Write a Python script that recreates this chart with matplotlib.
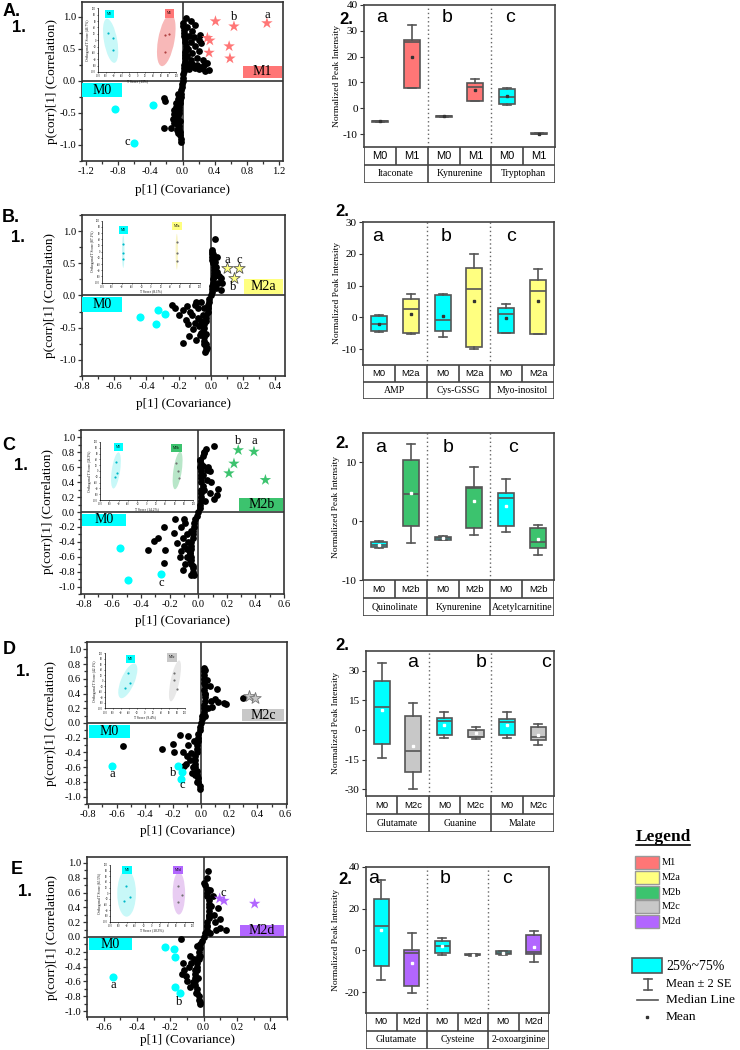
import matplotlib
matplotlib.use("Agg")
import matplotlib.pyplot as plt
from matplotlib.patches import Rectangle, Ellipse
from matplotlib.ticker import MultipleLocator, FormatStrFormatter

plt.rcParams["font.family"] = ["Liberation Serif", "DejaVu Serif"]
plt.rcParams["axes.unicode_minus"] = False

SANS = ["Liberation Sans", "DejaVu Sans"]
CYAN = "#00FFFF"
COLORS = {"M1": "#FF7676", "M2a": "#FFFF80", "M2b": "#3CC36E", "M2c": "#C8C8C8", "M2d": "#B266FF"}
LIGHT = {"M0": "#C8F8F8", "M1": "#F8B8B8", "M2a": "#F8F4C4", "M2b": "#B8E6C8", "M2c": "#E8E8E8", "M2d": "#E8CCF2"}
GRAY = "#555555"

# ---------------- S-plot data (p[1], p(corr)[1]) ----------------
A_black_x = [-0.02, -0.02, -0.03, -0.03, -0.04, -0.04, -0.05, -0.05, -0.05, -0.04, -0.04, -0.04, -0.03, -0.03,
             -0.02, -0.02, -0.02, -0.01, -0.01, 0.0, 0.01, 0.01, 0.02, 0.02, 0.02, 0.03, 0.03, 0.03, 0.03, 0.04,
             0.04, 0.03, 0.03, 0.02, 0.02, 0.02, 0.01, 0.01,
             0.04, 0.1, 0.16, 0.12, 0.06, 0.08, 0.14, 0.22, 0.2, 0.1, 0.23, 0.16, 0.07, 0.21, 0.12, 0.05, 0.25,
             0.18, 0.1, 0.31, 0.27, 0.22, 0.16, 0.33, 0.28, 0.2, 0.12, 0.08, 0.14, 0.05, 0.18, 0.24,
             -0.06, -0.08, -0.1, -0.07, -0.09, -0.12, -0.08, -0.06, -0.23, -0.22, -0.23, -0.14, -0.11, -0.07,
             -0.1, -0.05, -0.08, -0.03, -0.06]
A_black_y = [-0.95, -0.9, -0.85, -0.8, -0.75, -0.7, -0.65, -0.6, -0.55, -0.5, -0.45, -0.4, -0.35, -0.3, -0.25,
             -0.2, -0.15, -0.1, -0.05, 0.0, 0.05, 0.1, 0.15, 0.2, 0.25, 0.3, 0.35, 0.4, 0.45, 0.5, 0.55, 0.6,
             0.65, 0.7, 0.75, 0.8, 0.85, 0.9,
             0.98, 0.93, 0.875, 0.77, 0.84, 0.7, 0.68, 0.72, 0.64, 0.6, 0.59, 0.55, 0.5, 0.46, 0.44, 0.38, 0.33,
             0.36, 0.32, 0.28, 0.24, 0.22, 0.2, 0.17, 0.16, 0.18, 0.26, 0.18, 0.22, 0.26, 0.25, 0.2,
             -0.2, -0.35, -0.45, -0.5, -0.55, -0.6, -0.65, -0.7, -0.27, -0.32, -0.74, -0.74, -0.66, -0.76,
             -0.52, -0.82, -0.4, -0.62, -0.28]
A_m0_x = [-0.84, -0.37, -0.60]
A_m0_y = [-0.44, -0.38, -0.97]
A_star_x = [1.05, 0.64, 0.41, 0.31, 0.34, 0.58, 0.33, 0.59]
A_star_y = [0.90, 0.85, 0.93, 0.67, 0.63, 0.54, 0.44, 0.35]
A_tags = [("a", 1.05, 1.03), ("b", 0.64, 1.0), ("c", -0.69, -0.95)]

B_black_x = [-0.03, -0.03, -0.03, -0.04, -0.04, -0.04, -0.05, -0.04, -0.04, -0.03, -0.03, -0.03, -0.02, -0.02,
             -0.02, -0.01, -0.01, 0.0, 0.005, 0.01, 0.01, 0.015, 0.015, 0.02, 0.02, 0.02, 0.02, 0.015, 0.015,
             0.01, 0.01, 0.005,
             -0.24, -0.22, -0.175, -0.15, -0.12, -0.155, -0.2, -0.076, -0.134, -0.17, -0.09, -0.045, -0.035,
             -0.025, -0.06, -0.1, -0.13, -0.1, -0.08, -0.06, -0.05, -0.08, -0.11, -0.07, -0.05, -0.04, -0.14,
             -0.03, -0.06, -0.09,
             0.025, 0.005, 0.015, 0.025, 0.04, 0.06, 0.07, 0.06, 0.03, 0.02, 0.045, 0.03, 0.01, 0.05, 0.035]
B_black_y = [-0.85, -0.8, -0.75, -0.7, -0.65, -0.6, -0.55, -0.5, -0.45, -0.4, -0.35, -0.3, -0.25, -0.2, -0.15,
             -0.1, -0.05, 0.0, 0.05, 0.1, 0.15, 0.2, 0.25, 0.3, 0.35, 0.4, 0.45, 0.5, 0.55, 0.6, 0.65, 0.7,
             -0.14, -0.2, -0.22, -0.17, -0.3, -0.38, -0.3, -0.48, -0.63, -0.74, -0.69, -0.76, -0.87, -0.81,
             -0.58, -0.43, -0.25, -0.15, -0.2, -0.1, -0.3, -0.35, -0.52, -0.62, -0.45, -0.2, -0.45, -0.6,
             -0.4, -0.1,
             0.87, 0.68, 0.65, 0.52, 0.37, 0.27, 0.19, 0.09, 0.45, 0.3, 0.2, 0.12, 0.55, 0.3, 0.6]
B_m0_x = [-0.44, -0.33, -0.285, -0.34]
B_m0_y = [-0.34, -0.22, -0.29, -0.45]
B_star_x = [0.10, 0.145, 0.175]
B_star_y = [0.42, 0.27, 0.42]
B_tags = [("a", 0.10, 0.55), ("c", 0.175, 0.55), ("b", 0.14, 0.13)]

C_black_x = [-0.03, -0.04, -0.04, -0.05, -0.05, -0.05, -0.06, -0.05, -0.05, -0.05, -0.04, -0.04, -0.04, -0.03,
             -0.03, -0.02, -0.01, 0.0, 0.01, 0.01, 0.02, 0.02, 0.02, 0.02, 0.03, 0.02, 0.02, 0.02, 0.02, 0.01,
             0.02, 0.01, 0.03, 0.04,
             0.11, 0.04, 0.055, 0.015, 0.07, 0.06, 0.06, 0.03, 0.14, 0.085, 0.13, 0.11, 0.04, 0.09, 0.05, 0.08,
             0.03,
             -0.1, -0.16, -0.24, -0.17, -0.31, -0.28, -0.35, -0.23, -0.24, -0.11, -0.05, -0.08, -0.12, -0.08,
             -0.1, -0.06, -0.13, -0.09, -0.04, -0.07, -0.15, -0.05, -0.11, -0.09, -0.12, -0.06, -0.08]
C_black_y = [-0.85, -0.8, -0.75, -0.7, -0.65, -0.6, -0.55, -0.5, -0.45, -0.4, -0.35, -0.3, -0.25, -0.2, -0.15,
             -0.1, -0.05, 0.0, 0.05, 0.1, 0.15, 0.2, 0.25, 0.3, 0.35, 0.4, 0.45, 0.5, 0.55, 0.6, 0.65, 0.7,
             0.75, 0.8,
             0.89, 0.79, 0.84, 0.7, 0.61, 0.57, 0.43, 0.5, 0.31, 0.25, 0.23, 0.17, 0.3, 0.4, 0.15, 0.55, 0.62,
             -0.09, -0.1, -0.2, -0.28, -0.39, -0.35, -0.51, -0.51, -0.68, -0.78, -0.85, -0.6, -0.2, -0.3,
             -0.45, -0.55, -0.6, -0.7, -0.72, -0.4, -0.42, -0.25, -0.35, -0.15, -0.52, -0.65, -0.5]
C_m0_x = [-0.55, -0.49, -0.26]
C_m0_y = [-0.48, -0.91, -0.83]
C_star_x = [0.28, 0.39, 0.25, 0.215, 0.47]
C_star_y = [0.83, 0.81, 0.65, 0.52, 0.43]
C_tags = [("b", 0.28, 0.95), ("a", 0.39, 0.95), ("c", -0.26, -0.95)]

D_black_x = [-0.01, -0.02, -0.02, -0.03, -0.03, -0.04, -0.04, -0.04, -0.04, -0.03, -0.03, -0.03, -0.02, -0.02,
             -0.02, -0.01, -0.01, 0.0, 0.01, 0.01, 0.02, 0.02, 0.02, 0.03, 0.03, 0.03, 0.02, 0.03, 0.02, 0.02,
             0.02, 0.02,
             0.02, 0.03, 0.04, 0.11, 0.06, 0.03, 0.18, 0.16, 0.07, 0.1, 0.05, 0.03, 0.3, 0.08, 0.12,
             -0.15, -0.09, -0.2, -0.28, -0.555, -0.195, -0.13, -0.07, -0.12, -0.065, -0.03, -0.01, -0.08,
             -0.1, -0.05, -0.06, -0.11, -0.04, -0.09]
D_black_y = [-0.85, -0.8, -0.75, -0.7, -0.65, -0.6, -0.55, -0.5, -0.45, -0.4, -0.35, -0.3, -0.25, -0.2, -0.15,
             -0.1, -0.05, 0.0, 0.05, 0.1, 0.15, 0.2, 0.25, 0.3, 0.35, 0.4, 0.45, 0.5, 0.55, 0.6, 0.65, 0.7,
             0.75, 0.72, 0.59, 0.46, 0.5, 0.4, 0.26, 0.27, 0.3, 0.33, 0.2, 0.1, 0.34, 0.22, 0.28,
             -0.16, -0.18, -0.29, -0.35, -0.31, -0.39, -0.39, -0.41, -0.59, -0.68, -0.8, -0.89, -0.5, -0.45,
             -0.25, -0.6, -0.55, -0.7, -0.3]
D_m0_x = [-0.63, -0.165, -0.135, -0.145]
D_m0_y = [-0.58, -0.58, -0.67, -0.76]
D_star_x = [0.34, 0.38]
D_star_y = [0.37, 0.34]
D_tags = [("a", -0.63, -0.69), ("b", -0.195, -0.68), ("c", -0.13, -0.84)]

E_black_x = [-0.02, -0.03, -0.03, -0.04, -0.04, -0.05, -0.05, -0.05, -0.05, -0.04, -0.04, -0.04, -0.03, -0.03,
             -0.03, -0.02, -0.02, -0.01, 0.0, 0.01, 0.02, 0.02, 0.02, 0.03, 0.03, 0.03, 0.03, 0.03, 0.03, 0.02,
             0.02, 0.02, 0.01,
             0.026, 0.02, 0.0, 0.036, 0.056, 0.086, 0.096, 0.136, 0.1, 0.07, 0.045, 0.03, 0.02, 0.076, 0.04,
             0.06,
             -0.134, -0.084, -0.124, -0.12, -0.104, -0.064, -0.044, -0.024, -0.034, -0.054, -0.074, -0.02,
             -0.04, -0.1, -0.08, -0.13, -0.09, -0.06]
E_black_y = [-0.9, -0.85, -0.8, -0.75, -0.7, -0.65, -0.6, -0.55, -0.5, -0.45, -0.4, -0.35, -0.3, -0.25, -0.2,
             -0.15, -0.1, -0.05, 0.0, 0.05, 0.1, 0.15, 0.2, 0.25, 0.3, 0.35, 0.4, 0.45, 0.5, 0.55, 0.6, 0.65,
             0.7,
             0.89, 0.8, 0.73, 0.64, 0.55, 0.39, 0.24, 0.1, 0.12, 0.2, 0.42, 0.28, 0.15, 0.1, 0.05, 0.3,
             -0.03, -0.26, -0.35, -0.44, -0.53, -0.61, -0.75, -0.88, -0.55, -0.44, -0.35, -0.25, -0.12, -0.6,
             -0.68, -0.5, -0.4, -0.3]
E_m0_x = [-0.23, -0.18, -0.175, -0.545, -0.17, -0.145]
E_m0_y = [-0.135, -0.157, -0.265, -0.54, -0.68, -0.76]
E_star_x = [0.096, 0.122, 0.306]
E_star_y = [0.52, 0.49, 0.45]
E_tags = [("c", 0.12, 0.60), ("a", -0.545, -0.65), ("b", -0.145, -0.88)]

# ---------------- OPLS-DA score insets ----------------
A_in_m0_x, A_in_m0_y = [-75, -62, -62], [22, 6, -31]
A_in_g_x, A_in_g_y = [70, 82, 72], [16, 19, -37]
A_in_ell = [(-68, -2, 34, 140, 8), (74, 0, 42, 165, -8)]
A_in_lab = ("T Score (13%)", "Orthogonal T Score (46.7%)")

B_in_m0_x, B_in_m0_y = [-57, -57, -57], [26, -6, -23]
B_in_g_x, B_in_g_y = [53, 53, 53], [32, -6, -29]
B_in_ell = [(-57, 0, 5, 105, 0), (53, 0, 5, 115, 0)]
B_in_lab = ("T Score (8.1%)", "Orthogonal T Score (87.1%)")

C_in_m0_x, C_in_m0_y = [-66, -63, -69], [31, -7, -21]
C_in_g_x, C_in_g_y = [63, 66, 70], [28, 0, -24]
C_in_ell = [(-66, 2, 18, 125, -5), (66, 2, 18, 130, -5)]
C_in_lab = ("T Score (14.2%)", "Orthogonal T Score (38.3%)")

D_in_m0_x, D_in_m0_y = [-42, -37, -50], [27, -9, -27]
D_in_g_x, D_in_g_y = [73, 73, 80], [27, 2, -31]
D_in_ell = [(-43, 0, 35, 130, -15), (75, 0, 22, 150, -8)]
D_in_lab = ("T Score (9.4%)", "Orthogonal T Score (42.1%)")

E_in_m0_x, E_in_m0_y = [-61, -52, -66], [26, -12, -26]
E_in_g_x, E_in_g_y = [64, 73, 64], [26, -5, -30]
E_in_ell = [(-60, 0, 45, 165, 0), (66, 0, 30, 150, 0)]
E_in_lab = ("T Score (10.3%)", "Orthogonal T Score (65.5%)")

# ---------------- box plot data (order: M0, Mx for each metabolite) ----------------
A_names = ["Itaconate", "Kynurenine", "Tryptophan"]
A_q1 = [-5.2, 7.8, -3.2, 2.9, 1.5, -9.9]
A_med = [-5.1, 25.8, -3.0, 8.3, 4.5, -9.8]
A_q3 = [-5.0, 26.5, -2.8, 9.9, 7.5, -9.7]
A_lo = [-5.2, 7.8, -3.2, 2.8, 1.3, -9.9]
A_hi = [-5.0, 32.3, -2.8, 11.2, 7.9, -9.7]
A_mean = [-5.1, 20.0, -3.0, 7.0, 4.8, -9.8]

B_names = ["AMP", "Cys-GSSG", "Myo-inositol"]
B_q1 = [-4.2, -5.0, -4.3, -9.3, -4.8, -5.1]
B_med = [-2.1, 2.5, -0.8, 8.8, 1.0, 8.4]
B_q3 = [0.4, 5.8, 7.0, 15.6, 2.9, 11.8]
B_lo = [-4.7, -5.1, -6.2, -9.9, -4.9, -5.2]
B_hi = [0.7, 7.4, 7.3, 19.9, 4.3, 15.3]
B_mean = [-2.0, 1.1, 0.5, 5.0, -0.3, 5.0]

C_names = ["Quinolinate", "Kynurenine", "Acetylcarnitine"]
C_q1 = [-4.4, -0.9, -3.2, -1.1, -0.9, -4.6]
C_med = [-4.0, 4.7, -2.9, 5.7, 3.9, -3.6]
C_q3 = [-3.6, 10.4, -2.7, 5.8, 4.8, -1.2]
C_lo = [-4.6, -3.7, -3.2, -2.4, -1.9, -5.7]
C_hi = [-3.4, 13.2, -2.5, 9.3, 7.1, -0.6]
C_mean = [-4.0, 4.8, -2.9, 3.4, 2.6, -3.1]

D_names = ["Glutamate", "Guanine", "Malate"]
D_q1 = [-7.3, -21.3, -2.4, -3.8, -2.5, -4.9]
D_med = [11.8, -10.6, 4.4, -3.6, 4.2, -3.7]
D_q3 = [24.8, 7.2, 5.8, -0.1, 5.4, 1.7]
D_lo = [-14.4, -29.8, -3.9, -4.4, -4.0, -7.4]
D_hi = [34.0, 13.4, 9.1, 1.5, 8.9, 3.0]
D_mean = [10.0, -8.3, 2.6, -1.5, 2.4, -2.5]

E_names = ["Glutamate", "Cysteine", "2-oxoarginine"]
E_q1 = [-7.3, -16.9, -1.3, -2.4, -1.9, -1.75]
E_med = [11.8, -1.0, 2.2, -2.0, -1.2, -0.8]
E_q3 = [24.7, 0.1, 4.3, -1.7, -0.5, 7.2]
E_lo = [-14.4, -20.3, -2.4, -2.6, -2.4, -5.75]
E_hi = [33.8, 8.3, 6.1, -1.5, -0.5, 9.1]
E_mean = [9.6, -5.9, 1.9, -2.0, -1.3, 1.6]

LEGEND_GROUPS = ["M1", "M2a", "M2b", "M2c", "M2d"]


def px(l, t, r, b):
    return [l / 740, 1 - b / 1050, (r - l) / 740, (b - t) / 1050]


def draw_inset(ax, rect, m0x, m0y, gx, gy, ells, grp, labels, tagpos):
    ins = ax.inset_axes(rect)
    ins.set_xlim(-100, 100)
    ins.set_ylim(-100, 100)
    for (cx, cy, w, h, ang), key in zip(ells, ["M0", grp]):
        ins.add_patch(Ellipse((cx, cy), w, h, angle=ang, facecolor=LIGHT[key], edgecolor="none"))
    ins.scatter(m0x, m0y, s=2.5, color="#00B8C8", lw=0, zorder=3)
    ins.scatter(gx, gy, s=2.5, color="#B04040" if grp == "M1" else "#707070", lw=0, zorder=3)
    for (tx, ty), key in zip(tagpos, ["M0", grp]):
        ins.text(tx, ty, key, fontsize=2.5, ha="center", va="center",
                 bbox=dict(boxstyle="square,pad=0.6", facecolor=CYAN if key == "M0" else COLORS[grp],
                           edgecolor="none"))
    for s in ["top", "right"]:
        ins.spines[s].set_visible(False)
    for s in ["left", "bottom"]:
        ins.spines[s].set_linewidth(0.5)
    ins.set_xticks(range(-100, 101, 20))
    ins.set_yticks(range(-100, 101, 20))
    ins.tick_params(labelsize=1.8, length=1, width=0.4, pad=0.5)
    ins.set_xlabel(labels[0], fontsize=2.6, labelpad=0.5)
    ins.set_ylabel(labels[1], fontsize=2.6, labelpad=0.5)


def scatter_panel(fig, lay, bx, by, mx, my, sx, sy, tags, grp, inset):
    l, t, r, b = lay["box"]
    ax = fig.add_axes(px(l, t, r, b))
    ax.set_xlim(lay["xlim"])
    ax.set_ylim(lay["ylim"])
    ax.xaxis.set_major_locator(MultipleLocator(lay["xstep"]))
    ax.xaxis.set_minor_locator(MultipleLocator(lay["xstep"] / 2))
    ax.yaxis.set_major_locator(MultipleLocator(lay["ystep"]))
    ax.yaxis.set_minor_locator(MultipleLocator(lay["ystep"] / 2))
    ax.xaxis.set_major_formatter(FormatStrFormatter("%.1f"))
    ax.yaxis.set_major_formatter(FormatStrFormatter("%.1f"))
    ax.tick_params(which="both", direction="out", labelsize=7.6, pad=1.2, width=0.9, color="#333333")
    ax.tick_params(which="major", length=3)
    ax.tick_params(which="minor", length=2)
    for s in ax.spines.values():
        s.set_linewidth(1.2)
        s.set_color("#333333")
    ax.axhline(0, color="#333333", lw=1.2, zorder=2)
    ax.axvline(0, color="#333333", lw=1.2, zorder=2)
    ax.scatter(bx, by, s=24, color="black", lw=0, zorder=3)
    ax.scatter(mx, my, s=34, color=CYAN, lw=0, zorder=3)
    ax.scatter(sx, sy, s=75, marker="*", color=COLORS[grp], edgecolors=lay["star_edge"],
               linewidths=0.6 if lay["star_edge"] != "none" else 0, zorder=4)
    for txt, tx, ty in tags:
        ax.text(tx, ty, txt, fontsize=9, ha="center", va="center", zorder=5)
    # group name boxes
    for (x0, y0, x1, y1), name, col in [(lay["m0_rect"], "M0", CYAN), (lay["g_rect"], grp, COLORS[grp])]:
        ax.add_patch(Rectangle((x0, y0), x1 - x0, y1 - y0, transform=ax.transAxes, facecolor=col,
                               edgecolor="none", zorder=4))
        ax.text((x0 + x1) / 2, (y0 + y1) / 2, name, transform=ax.transAxes, fontsize=10,
                ha="center", va="center", zorder=5)
    ax.set_xlabel("p[1] (Covariance)", fontsize=9.5, va="center")
    ax.xaxis.set_label_coords(0.5, -(lay["xlab_y"] - b) / (b - t))
    ax.set_ylabel("p(corr)[1] (Correlation)", fontsize=9.5, ha="center", va="center")
    ax.yaxis.set_label_coords(-(l - lay["ylab_x"]) / (r - l), 0.5)
    draw_inset(ax, *inset, grp, lay["in_labels"], lay["in_tags"])
    return ax


def box_panel(fig, lay, names, grp, q1, med, q3, lo, hi, mean):
    l, t, r, b = lay["box"]
    ax = fig.add_axes(px(l, t, r, b))
    stats = []
    for i in range(6):
        stats.append(dict(q1=q1[i], med=med[i], q3=q3[i], whislo=lo[i], whishi=hi[i],
                          mean=mean[i], fliers=[]))
    mc = lay["mean_color"]
    bp = ax.bxp(stats, positions=[1, 2, 3, 4, 5, 6], widths=0.5, patch_artist=True, showmeans=True,
                showfliers=False, capwidths=0.25,
                boxprops=dict(edgecolor=GRAY, linewidth=1.2),
                medianprops=dict(color=GRAY, linewidth=1.2),
                whiskerprops=dict(color=GRAY, linewidth=1.2),
                capprops=dict(color=GRAY, linewidth=1.2),
                meanprops=dict(marker="s", markersize=1.5, markerfacecolor=mc, markeredgecolor=mc))
    for i, patch in enumerate(bp["boxes"]):
        patch.set_facecolor(CYAN if i % 2 == 0 else COLORS[grp])
    ax.set_xlim(0.5, 6.5)
    ax.set_ylim(lay["ylim"])
    ax.set_yticks(lay["yticks"])
    ax.set_xticks([])
    ax.tick_params(axis="y", direction="out", length=3, labelsize=8, pad=1.5, color="#333333")
    for s in ax.spines.values():
        s.set_linewidth(1.2)
        s.set_color("#444444")
    for xv in [2.5, 4.5]:
        ax.axvline(xv, color="#666666", lw=1.0, ls=(0, (1, 2)))
    for (fx, fy), letter in zip(lay["letters"], ["a", "b", "c"]):
        ax.text(fx, fy, letter, transform=ax.transAxes, fontsize=14, family=SANS, ha="center", va="center")
    ax.set_ylabel("Normalized Peak Intensity", fontsize=6.8, ha="center", va="center")
    ax.yaxis.set_label_coords(-(l - lay["ylab_x"]) / (r - l), 0.5)

    # category table under the box plot
    tl, tt, tr, tb = lay["table"]
    tab = fig.add_axes(px(tl, tt, tr, tb))
    tab.set_xlim(0.5, 6.5)
    tab.set_ylim(0, 2)
    tab.axis("off")
    lc = dict(color="#444444", lw=1.2, solid_capstyle="butt")
    tab.plot([0.5, 6.5], [1, 1], **lc)
    tab.plot([0.5, 6.5], [0, 0], **lc)
    tab.plot([0.5, 0.5], [0, 2], **lc)
    tab.plot([6.5, 6.5], [0, 2], **lc)
    for xv in [1.5, 3.5, 5.5]:
        tab.plot([xv, xv], [1, 2], **lc)
    for xv in [2.5, 4.5]:
        tab.plot([xv, xv], [0, 2], **lc)
    for i in range(6):
        tab.text(i + 1, 1.5, "M0" if i % 2 == 0 else grp, fontsize=lay["gsize"], family=SANS,
                 ha="center", va="center")
    for j, name in enumerate(names):
        tab.text(2 * j + 1.5, 0.5, name, fontsize=7, ha="center", va="center")
    return ax


def main():
    fig = plt.figure(figsize=(7.4, 10.5), dpi=100)

    s_lays = [
        dict(box=(82, 2, 283, 161), xlim=(-1.25, 1.25), ylim=(-1.25, 1.23), xstep=0.4, ystep=0.5,
             m0_rect=(0.0, 0.40, 0.2, 0.49), g_rect=(0.80, 0.52, 0.995, 0.60), xlab_y=190, ylab_x=52,
             star_edge="none", in_tags=[(-70, 82), (82, 84)], in_labels=A_in_lab),
        dict(box=(82, 215, 285, 376), xlim=(-0.8, 0.46), ylim=(-1.25, 1.25), xstep=0.2, ystep=0.5,
             m0_rect=(0.0, 0.40, 0.197, 0.49), g_rect=(0.80, 0.51, 0.99, 0.60), xlab_y=404, ylab_x=50,
             star_edge="#555555", in_tags=[(-57, 71), (53, 82)], in_labels=B_in_lab),
        dict(box=(81, 430, 284, 594), xlim=(-0.82, 0.6), ylim=(-1.1, 1.1), xstep=0.2, ystep=0.2,
             m0_rect=(0.005, 0.415, 0.22, 0.49), g_rect=(0.78, 0.506, 0.995, 0.585), xlab_y=621, ylab_x=48,
             star_edge="none", in_tags=[(-61, 83), (63, 78)], in_labels=C_in_lab),
        dict(box=(87, 642, 287, 804), xlim=(-0.81, 0.61), ylim=(-1.1, 1.1), xstep=0.2, ystep=0.2,
             m0_rect=(0.01, 0.41, 0.215, 0.49), g_rect=(0.775, 0.51, 0.985, 0.586), xlab_y=831, ylab_x=51,
             star_edge="#777777", in_tags=[(-37, 80), (67, 85)], in_labels=D_in_lab),
        dict(box=(87, 857, 287, 1017), xlim=(-0.7, 0.5), ylim=(-1.08, 1.08), xstep=0.2, ystep=0.2,
             m0_rect=(0.01, 0.416, 0.225, 0.491), g_rect=(0.765, 0.509, 0.985, 0.578), xlab_y=1040,
             ylab_x=52, star_edge="none", in_tags=[(-59, 82), (64, 82)], in_labels=E_in_lab),
    ]
    inset_rects = [[0.08, 0.56, 0.39, 0.40], [0.10, 0.58, 0.48, 0.385], [0.094, 0.573, 0.46, 0.354],
                   [0.09, 0.59, 0.40, 0.34], [0.115, 0.596, 0.415, 0.354]]

    scatter_panel(fig, s_lays[0], A_black_x, A_black_y, A_m0_x, A_m0_y, A_star_x, A_star_y, A_tags, "M1",
                  (inset_rects[0], A_in_m0_x, A_in_m0_y, A_in_g_x, A_in_g_y, A_in_ell))
    scatter_panel(fig, s_lays[1], B_black_x, B_black_y, B_m0_x, B_m0_y, B_star_x, B_star_y, B_tags, "M2a",
                  (inset_rects[1], B_in_m0_x, B_in_m0_y, B_in_g_x, B_in_g_y, B_in_ell))
    scatter_panel(fig, s_lays[2], C_black_x, C_black_y, C_m0_x, C_m0_y, C_star_x, C_star_y, C_tags, "M2b",
                  (inset_rects[2], C_in_m0_x, C_in_m0_y, C_in_g_x, C_in_g_y, C_in_ell))
    scatter_panel(fig, s_lays[3], D_black_x, D_black_y, D_m0_x, D_m0_y, D_star_x, D_star_y, D_tags, "M2c",
                  (inset_rects[3], D_in_m0_x, D_in_m0_y, D_in_g_x, D_in_g_y, D_in_ell))
    scatter_panel(fig, s_lays[4], E_black_x, E_black_y, E_m0_x, E_m0_y, E_star_x, E_star_y, E_tags, "M2d",
                  (inset_rects[4], E_in_m0_x, E_in_m0_y, E_in_g_x, E_in_g_y, E_in_ell))

    b_lays = [
        dict(box=(364, 5, 555, 147), table=(364, 147, 555, 183), ylim=(-15, 40), yticks=range(-10, 41, 10),
             letters=[(0.094, 0.91), (0.435, 0.91), (0.765, 0.91)], ylab_x=337, mean_color="#333333", gsize=8),
        dict(box=(363, 222, 554, 365), table=(363, 365, 554, 399), ylim=(-15, 30), yticks=range(-10, 31, 10),
             letters=[(0.079, 0.90), (0.435, 0.90), (0.775, 0.90)], ylab_x=337, mean_color="#333333", gsize=6.8),
        dict(box=(363, 433, 554, 580), table=(363, 580, 554, 616), ylim=(-10, 15), yticks=[-10, 0, 10],
             letters=[(0.094, 0.90), (0.445, 0.90), (0.785, 0.90)], ylab_x=336, mean_color="white", gsize=6.8),
        dict(box=(366, 651, 554, 796), table=(366, 796, 554, 832), ylim=(-33.5, 40),
             yticks=[-30, -15, 0, 15, 30], letters=[(0.25, 0.92), (0.61, 0.92), (0.955, 0.92)], ylab_x=336,
             mean_color="white", gsize=6.8),
        dict(box=(366, 867, 549, 1013), table=(366, 1013, 549, 1049), ylim=(-30, 40),
             yticks=[-20, 0, 20, 40], letters=[(0.04, 0.92), (0.43, 0.92), (0.77, 0.92)], ylab_x=336,
             mean_color="white", gsize=6.8),
    ]
    box_panel(fig, b_lays[0], A_names, "M1", A_q1, A_med, A_q3, A_lo, A_hi, A_mean)
    box_panel(fig, b_lays[1], B_names, "M2a", B_q1, B_med, B_q3, B_lo, B_hi, B_mean)
    box_panel(fig, b_lays[2], C_names, "M2b", C_q1, C_med, C_q3, C_lo, C_hi, C_mean)
    box_panel(fig, b_lays[3], D_names, "M2c", D_q1, D_med, D_q3, D_lo, D_hi, D_mean)
    box_panel(fig, b_lays[4], E_names, "M2d", E_q1, E_med, E_q3, E_lo, E_hi, E_mean)

    # overlay in pixel coordinates: panel labels and legend
    ov = fig.add_axes([0, 0, 1, 1])
    ov.set_xlim(0, 740)
    ov.set_ylim(1050, 0)
    ov.axis("off")
    for txt, x, y, size in [("A.", 12, 12, 13), ("1.", 19, 28, 12), ("2.", 346, 19, 12),
                            ("B.", 11, 218, 13), ("1.", 18, 238, 12), ("2.", 342, 212, 12),
                            ("C", 9, 445, 13), ("1.", 21, 466, 12), ("2.", 342, 443, 12),
                            ("D", 9, 650, 13), ("1.", 23, 672, 12), ("2.", 342, 646, 12),
                            ("E", 17, 869, 13), ("1.", 25, 892, 12), ("2.", 345, 879, 12)]:
        ov.text(x, y, txt, fontsize=size, fontweight="bold", family=SANS, ha="center", va="center")

    ov.text(663, 837, "Legend", fontsize=12.5, fontweight="bold", ha="center", va="center")
    ov.plot([636, 690], [845, 845], color="black", lw=1.2)
    for i, g in enumerate(LEGEND_GROUPS):
        y0 = 856 + 14.8 * i
        ov.add_patch(Rectangle((635, y0), 24, 13, facecolor=COLORS[g], edgecolor="#999999", lw=1.0))
        ov.text(662, y0 + 6.5, g, fontsize=7.5, ha="left", va="center")
    ov.add_patch(Rectangle((632, 958), 30, 15, facecolor=CYAN, edgecolor=GRAY, lw=1.2))
    ov.text(666, 966, "25%~75%", fontsize=10, ha="left", va="center")
    ov.plot([648, 648], [979, 990], color=GRAY, lw=1.2)
    ov.plot([644, 652], [979, 979], color=GRAY, lw=1.2)
    ov.plot([644, 652], [990, 990], color=GRAY, lw=1.2)
    ov.text(666, 984, "Mean \u00b1 2 SE", fontsize=9, ha="left", va="center")
    ov.plot([637, 658], [1000, 1000], color=GRAY, lw=1.2)
    ov.text(666, 1000, "Median Line", fontsize=9.6, ha="left", va="center")
    ov.plot([647], [1017], marker="s", markersize=1.8, color="#333333")
    ov.text(666, 1017, "Mean", fontsize=9.6, ha="left", va="center")

    fig.savefig("out.png", dpi=100)


if __name__ == "__main__":
    main()
